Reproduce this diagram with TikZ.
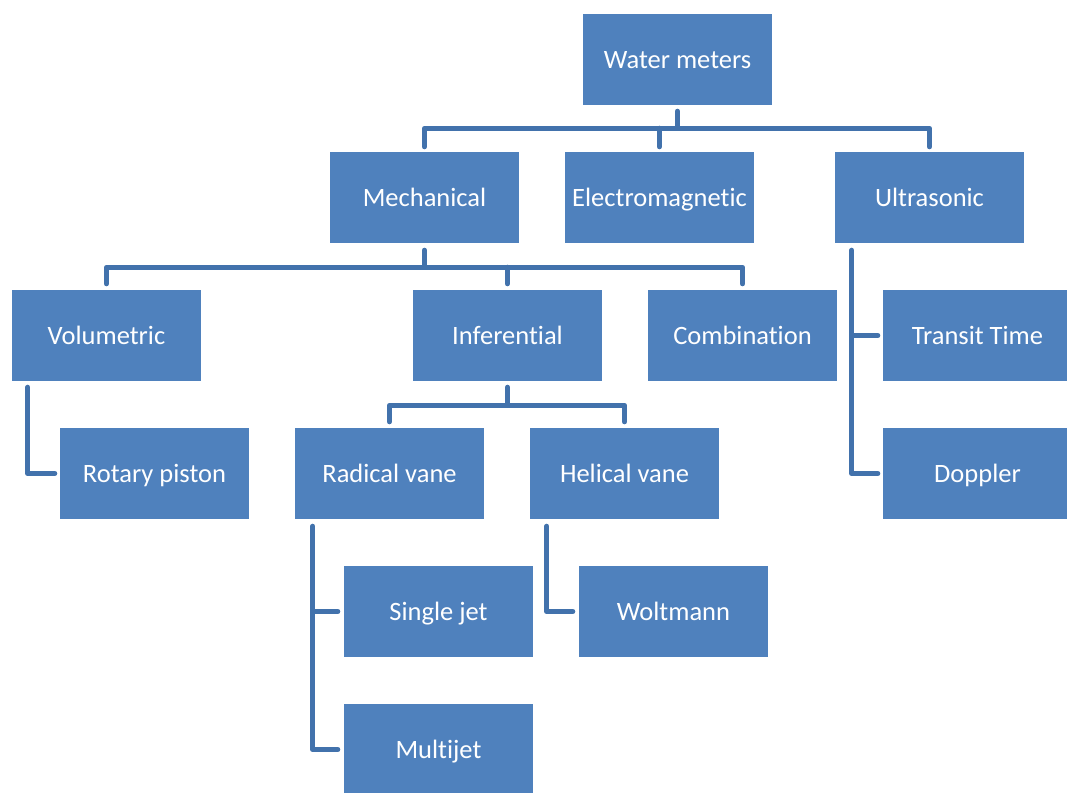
\documentclass[tikz,border=0pt]{standalone}
\usepackage{fontspec}
\setmainfont{Carlito}[Ligatures={NoCommon}]
\usetikzlibrary{calc}
\definecolor{boxblue}{HTML}{4F81BD}
\definecolor{lineblue}{HTML}{4272AC}
\tikzset{
  box/.style={fill=boxblue, draw=none, text=white, minimum width=189pt, minimum height=91pt,
    inner sep=0pt, text height=17pt, text depth=0pt, font=\fontsize{26.5}{30}\selectfont},
  conn/.style={draw=lineblue, line width=5pt, line cap=round, line join=round}
}
\begin{document}
\begin{tikzpicture}[x=1pt,y=-1pt]
\useasboundingbox (0,0) rectangle (1067,792);
\node[box] (wm) at (677.5,59.5) {Water meters};
\node[box] (mech) at (424.5,197.5) {Mechanical};
\node[box] (elec) at (659.5,197.5) {Electromagnetic};
\node[box] (ultra) at (929.5,197.5) {Ultrasonic};
\node[box] (vol) at (106.5,335.5) {Volumetric};
\node[box] (inf) at (507.5,335.5) {Inferential};
\node[box] (comb) at (742.5,335.5) {Combination};
\node[box] (transit) at (977.5,335.5) {Transit Time};
\node[box] (rot) at (154.5,473.5) {Rotary piston};
\node[box] (rad) at (389.5,473.5) {Radical vane};
\node[box] (hel) at (624.5,473.5) {Helical vane};
\node[box] (dop) at (977.5,473.5) {Doppler};
\node[box] (single) at (438.5,611.5) {Single jet};
\node[box] (wolt) at (673.5,611.5) {Woltmann};
\node[box] (multi) at (438.5,749.5) {Multijet};

% Water meters -> level 1
\coordinate (b1) at ([yshift=-23pt]wm.south);
\draw[conn] ([yshift=-6pt]wm.south) -- (b1);
\draw[conn] ([yshift=5pt]mech.north) |- (b1) -| ([yshift=5pt]ultra.north);
\draw[conn] ([yshift=5pt]elec.north) -- (elec.north |- b1);

% Mechanical -> level 2
\coordinate (b2) at ([yshift=-24pt]mech.south);
\draw[conn] ([yshift=-7pt]mech.south) -- (b2);
\draw[conn] ([yshift=6pt]vol.north) |- (b2) -| ([yshift=6pt]comb.north);
\draw[conn] ([yshift=6pt]inf.north) -- (inf.north |- b2);

% Inferential -> vanes
\coordinate (b3) at ([yshift=-24pt]inf.south);
\draw[conn] ([yshift=-6pt]inf.south) -- (b3);
\draw[conn] ([yshift=6pt]rad.north) |- (b3) -| ([yshift=6pt]hel.north);

% Ultrasonic -> side children
\draw[conn] ([xshift=17pt,yshift=-7pt]ultra.south west) |- ([xshift=-5pt]dop.west);
\draw[conn] ([xshift=17pt]ultra.south west |- transit.west) -- ([xshift=-5pt]transit.west);

% Volumetric -> Rotary piston
\draw[conn] ([xshift=16pt,yshift=-6pt]vol.south west) |- ([xshift=-5pt]rot.west);

% Radical vane -> jets
\draw[conn] ([xshift=18pt,yshift=-7pt]rad.south west) |- ([xshift=-6pt]multi.west);
\draw[conn] ([xshift=18pt]rad.south west |- single.west) -- ([xshift=-6pt]single.west);

% Helical vane -> Woltmann
\draw[conn] ([xshift=17pt,yshift=-7pt]hel.south west) |- ([xshift=-6pt]wolt.west);
\end{tikzpicture}
\end{document}
